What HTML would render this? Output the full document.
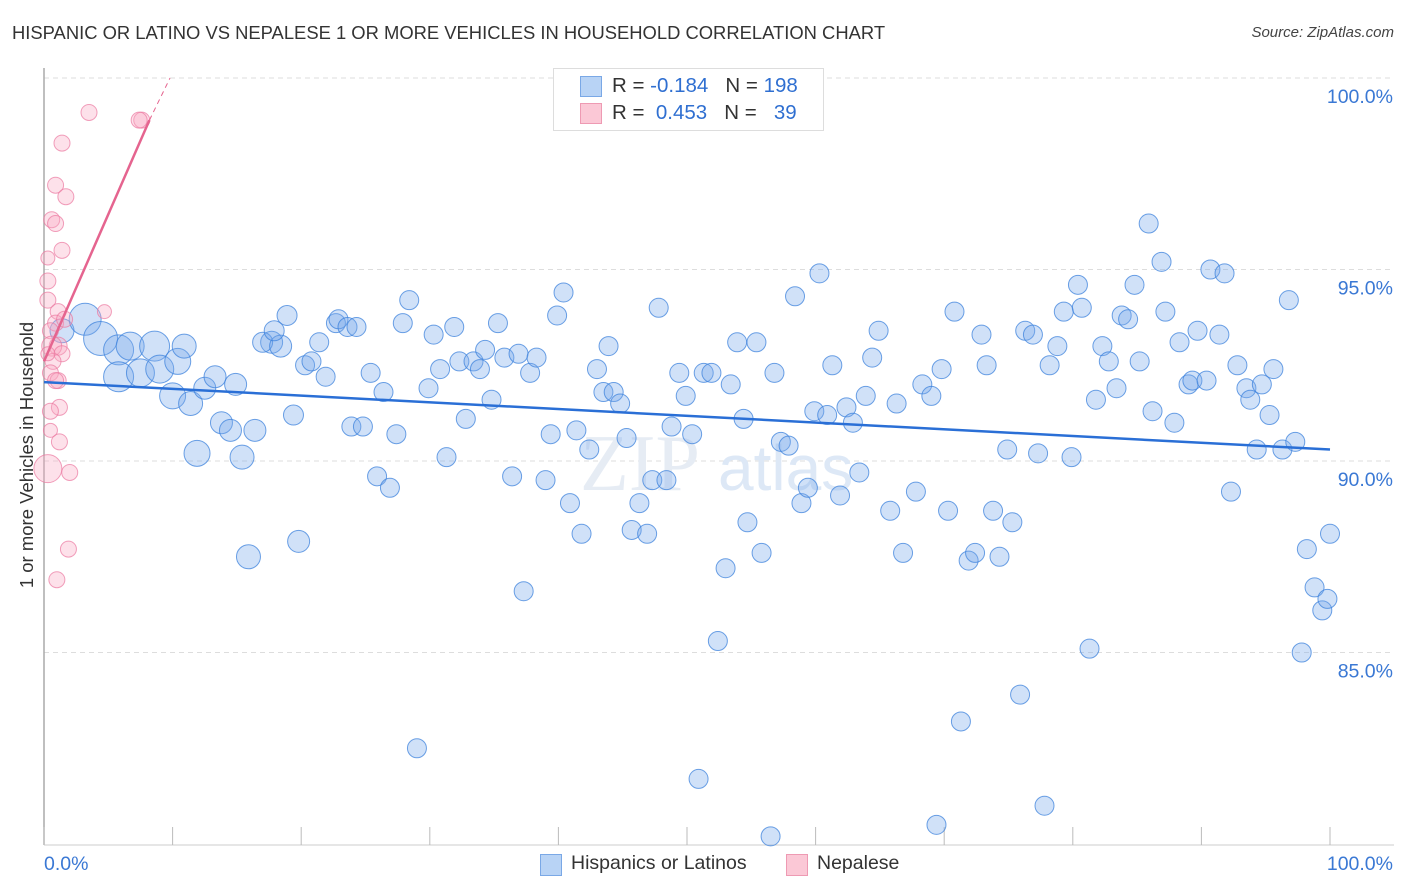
<!DOCTYPE html>
<html><head><meta charset="utf-8"><style>
body{margin:0;background:#fff;font-family:"Liberation Sans",sans-serif;}
#wrap{position:relative;width:1406px;height:892px;overflow:hidden;}
.t{position:absolute;white-space:nowrap;}
</style></head><body>
<div id="wrap">
<div class="t" style="left:12px;top:22px;font-size:18.4px;color:#333;">HISPANIC OR LATINO VS NEPALESE 1 OR MORE VEHICLES IN HOUSEHOLD CORRELATION CHART</div>
<div class="t" style="right:12px;top:24px;font-size:15px;color:#444;font-style:italic;">Source: ZipAtlas.com</div>
<div class="t" style="left:27px;top:455px;font-size:18.5px;color:#333;transform:translate(-50%,-50%) rotate(-90deg);">1 or more Vehicles in Household</div>
<svg id="plot" width="1406" height="892" style="position:absolute;left:0;top:0"></svg>
<div style="position:absolute;left:553px;top:68px;width:269px;height:61px;border:1px solid #ddd;background:#fff;font-size:20.5px;">
 <div style="position:absolute;left:26px;top:7px;width:20px;height:19px;background:#b8d3f5;border:1px solid #7aa8e6"></div>
 <div class="t" style="left:58px;top:5px;color:#333">R = <span style="color:#2f6fd1">-0.184</span>&nbsp;&nbsp;&nbsp;N = <span style="color:#2f6fd1">198</span></div>
 <div style="position:absolute;left:26px;top:34px;width:20px;height:19px;background:#fbc8d6;border:1px solid #ee9ab3"></div>
 <div class="t" style="left:58px;top:32px;color:#333">R = &nbsp;<span style="color:#2f6fd1">0.453</span>&nbsp;&nbsp;&nbsp;N = &nbsp;&nbsp;<span style="color:#2f6fd1">39</span></div>
</div>
<div style="position:absolute;left:540px;top:854px;width:20px;height:20px;background:#b8d3f5;border:1px solid #7aa8e6"></div>
<div class="t" style="left:571px;top:852px;font-size:19.5px;color:#333">Hispanics or Latinos</div>
<div style="position:absolute;left:786px;top:854px;width:20px;height:20px;background:#fbc8d6;border:1px solid #ee9ab3"></div>
<div class="t" style="left:817px;top:852px;font-size:19.5px;color:#333">Nepalese</div>
</div>
<script>
const yTicks=[100,95,90,85];
const yTickLabels=["100.0%","95.0%","90.0%","85.0%"];
const xLabels=["0.0%","100.0%"];
const blueX=[1.4,3.2,4.4,5.8,5.8,6.7,8.6,7.5,9.0,10.4,10.0,11.4,10.9,11.9,12.5,13.3,14.9,13.8,14.5,15.4,16.4,15.9,17.7,17.0,18.4,17.9,18.9,19.4,19.8,20.3,20.8,21.4,21.9,22.7,22.9,23.6,24.3,23.9,24.8,25.4,25.9,26.4,26.9,27.4,27.9,28.4,29.0,29.9,30.3,30.8,31.3,31.9,32.3,32.8,33.4,33.9,34.3,34.8,35.3,35.8,36.4,36.9,37.3,37.8,38.3,39.0,39.4,39.9,40.4,40.9,41.4,41.8,42.4,43.0,43.5,43.9,44.3,44.8,45.3,45.7,46.3,46.9,47.3,47.8,48.4,48.8,49.4,49.9,50.4,50.9,51.3,51.9,52.4,53.0,53.4,53.9,54.4,54.7,55.4,55.8,56.5,56.8,57.3,57.9,58.4,58.9,59.4,59.9,60.3,60.9,61.3,61.9,62.4,62.9,63.4,63.9,64.4,64.9,65.8,66.3,66.8,67.8,68.3,69.0,69.8,70.3,70.8,71.3,71.9,72.4,72.9,73.3,73.8,74.3,74.9,75.3,75.9,76.3,76.9,77.3,77.8,78.2,78.8,79.3,79.9,80.4,80.7,81.3,81.8,82.3,82.8,83.4,83.8,84.3,84.8,85.2,85.9,86.2,86.9,87.2,87.9,88.3,89.0,89.3,89.7,90.4,90.7,91.4,91.8,92.3,92.8,93.5,93.8,94.3,94.7,95.3,95.6,96.3,96.8,97.3,97.8,98.2,98.8,99.4,99.8,100.0,69.4];
const blueY=[93.4,93.7,93.2,92.9,92.2,93.0,93.0,92.3,92.4,92.6,91.7,91.5,93.0,90.2,91.9,92.2,92.0,91.0,90.8,90.1,90.8,87.5,93.1,93.1,93.0,93.4,93.8,91.2,87.9,92.5,92.6,93.1,92.2,93.6,93.7,93.5,93.5,90.9,90.9,92.3,89.6,91.8,89.3,90.7,93.6,94.2,82.5,91.9,93.3,92.4,90.1,93.5,92.6,91.1,92.6,92.4,92.9,91.6,93.6,92.7,89.6,92.8,86.6,92.3,92.7,89.5,90.7,93.8,94.4,88.9,90.8,88.1,90.3,92.4,91.8,93.0,91.8,91.5,90.6,88.2,88.9,88.1,89.5,94.0,89.5,90.9,92.3,91.7,90.7,81.7,92.3,92.3,85.3,87.2,92.0,93.1,91.1,88.4,93.1,87.6,80.2,92.3,90.5,90.4,94.3,88.9,89.3,91.3,94.9,91.2,92.5,89.1,91.4,91.0,89.7,91.7,92.7,93.4,88.7,91.5,87.6,89.2,92.0,91.7,92.4,88.7,93.9,83.2,87.4,87.6,93.3,92.5,88.7,87.5,90.3,88.4,83.9,93.4,93.3,90.2,81.0,92.5,93.0,93.9,90.1,94.6,94.0,85.1,91.6,93.0,92.6,91.9,93.8,93.7,94.6,92.6,96.2,91.3,95.2,93.9,91.0,93.1,92.0,92.1,93.4,92.1,95.0,93.3,94.9,89.2,92.5,91.9,91.6,90.3,92.0,91.2,92.4,90.3,94.2,90.5,85.0,87.7,86.7,86.1,86.4,88.1,80.5];
const blueSize=[12,16,17,15,15,14,15,14,14,13,13,12,12,13,11,11,11,11,11,12,11,12,11,10,11,10,10,10,11];
const pinkX=[3.5,1.4,0.9,1.7,0.6,0.9,1.4,0.3,0.3,0.3,1.1,4.7,0.9,0.5,1.1,0.6,1.4,0.7,0.5,1.1,0.9,1.2,0.5,0.5,1.2,0.3,2.0,1.9,1.0,7.6,7.4,0.3,1.6];
const pinkY=[99.1,98.3,97.2,96.9,96.3,96.2,95.5,95.3,94.7,94.2,93.9,93.9,93.6,93.4,93.0,93.0,92.8,92.6,92.3,92.1,92.1,91.4,91.3,90.8,90.5,89.8,89.7,87.7,86.9,98.9,98.9,92.8,93.7];
const pinkSize=[8,8,8,8,8,8,8,7,8,8,8,7,8,8,9,10,8,8,8,8,8,8,8,7,8,14,8,8,8,8,8,7,8];
const blueTrend=[[0,92.06],[100,90.3]];
const pinkTrend=[[0,92.6],[8.2,98.9]];
const pinkTrendExt=[[8.2,98.9],[9.8,100.0]];

const X0=44,X1=1330,Y0=78,YS=38.3;
const xs=p=>X0+p*(X1-X0)/100;
const ys=v=>Y0+(100-v)*YS;
const NS="http://www.w3.org/2000/svg";
const svg=document.getElementById('plot');
function mk(tag,attrs,parent){const e=document.createElementNS(NS,tag);for(const k in attrs)e.setAttribute(k,attrs[k]);(parent||svg).appendChild(e);return e;}

yTicks.forEach((v,i)=>{
  const g=mk('line',{x1:X0,x2:1394,y1:ys(v),y2:ys(v),stroke:'#ddd','stroke-dasharray':'5,4'});
  
  
  const t=mk('text',{x:1393,y:ys(v)+25,'text-anchor':'end','font-size':19.5,fill:'#3a78d4','font-family':'Liberation Sans, sans-serif'});
  t.textContent=yTickLabels[i];
  
  
});
const ax=mk('line',{x1:X0,x2:X0,y1:68,y2:845,stroke:'#aaa','stroke-width':1.5});


const bx=mk('line',{x1:X0,x2:1394,y1:845,y2:845,stroke:'#ccc'});


for(let i=0;i<=10;i++){
  const tk=mk('line',{x1:xs(i*10),x2:xs(i*10),y1:827,y2:845,stroke:'#bbb'});
  
  
}
const xl0=mk('text',{x:X0,y:870,'font-size':19.5,fill:'#3a78d4','font-family':'Liberation Sans, sans-serif'});
xl0.textContent=xLabels[0];


const xl1=mk('text',{x:1393,y:870,'text-anchor':'end','font-size':19.5,fill:'#3a78d4','font-family':'Liberation Sans, sans-serif'});
xl1.textContent=xLabels[1];



const wm=mk('text',{x:640,y:490,'text-anchor':'middle','font-size':80,fill:'#e6ecf4','font-family':'Liberation Serif, serif'});
wm.textContent='ZIP';


const wm2=mk('text',{x:718,y:490,'font-size':64,fill:'#dde8f6','font-family':'Liberation Sans, sans-serif'});
wm2.textContent='atlas';



blueX.forEach((x,i)=>{
  const c=mk('circle',{cx:xs(x),cy:ys(blueY[i]),r:blueSize[i]||9.5,fill:'rgba(120,170,235,0.35)',stroke:'rgba(60,130,220,0.75)','stroke-width':1});
  
  
});
pinkX.forEach((x,i)=>{
  const c=mk('circle',{cx:xs(x),cy:ys(pinkY[i]),r:pinkSize[i],fill:'rgba(248,170,195,0.35)',stroke:'rgba(235,120,160,0.7)','stroke-width':1});
  
  
});
const bt=mk('line',{x1:xs(blueTrend[0][0]),y1:ys(blueTrend[0][1]),x2:xs(blueTrend[1][0]),y2:ys(blueTrend[1][1]),stroke:'#2a6fd6','stroke-width':2.5});


const pt=mk('line',{x1:xs(pinkTrend[0][0]),y1:ys(pinkTrend[0][1]),x2:xs(pinkTrend[1][0]),y2:ys(pinkTrend[1][1]),stroke:'#e5648f','stroke-width':2.5});


const pe=mk('line',{x1:xs(pinkTrendExt[0][0]),y1:ys(pinkTrendExt[0][1]),x2:xs(pinkTrendExt[1][0]),y2:ys(pinkTrendExt[1][1]),stroke:'#e5648f','stroke-width':1,'stroke-dasharray':'5,4'});


</script>
</body></html>
